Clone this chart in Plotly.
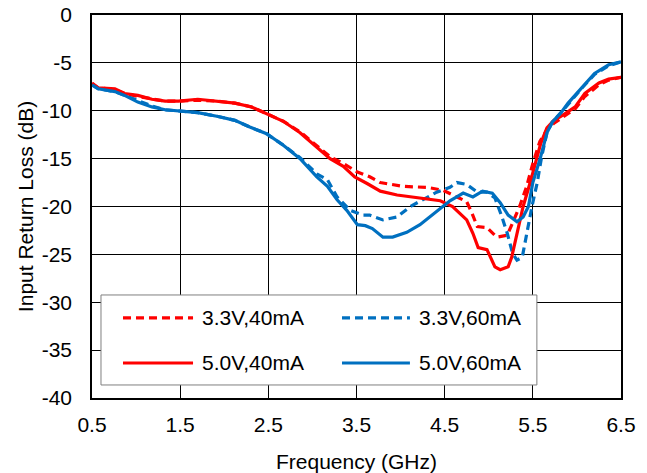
import plotly.graph_objects as go

# 3.3V,40mA (dashed red)
f_r33 = [0.5,0.57,0.76,0.87,1.02,1.18,1.33,1.48,1.70,1.93,2.12,2.31,2.48,2.67,2.86,3.05,3.20,3.35,3.43,3.51,3.65,3.77,4.03,4.30,4.48,4.67,4.75,4.81,4.87,4.98,5.09,5.21,5.27,5.35,5.43,5.50,5.58,5.66,5.74,5.85,5.98,6.09,6.25,6.36,6.5]
s_r33 = [-7.2,-7.6,-7.8,-8.2,-8.5,-8.8,-9.0,-9.0,-8.9,-9.0,-9.2,-9.6,-10.3,-11.1,-12.2,-13.6,-14.8,-15.5,-16.0,-16.4,-16.9,-17.5,-17.9,-18.0,-18.3,-19.2,-19.5,-20.7,-22.1,-22.2,-23.2,-23.0,-21.7,-20.0,-17.9,-15.5,-13.2,-12.0,-11.3,-10.6,-9.8,-8.5,-7.3,-6.8,-6.5]

# 3.3V,60mA (dashed blue)
f_b33 = [0.5,0.57,0.76,0.87,1.02,1.18,1.33,1.48,1.70,1.93,2.12,2.29,2.48,2.67,2.86,3.05,3.17,3.28,3.43,3.57,3.65,3.80,3.96,4.11,4.25,4.41,4.56,4.64,4.75,4.87,4.98,5.07,5.15,5.21,5.27,5.32,5.38,5.41,5.45,5.49,5.55,5.60,5.66,5.72,5.82,5.90,6.06,6.20,6.36,6.5]
s_b33 = [-7.3,-7.7,-8.0,-8.4,-9.0,-9.5,-9.9,-10.0,-10.2,-10.6,-11.0,-11.7,-12.4,-13.6,-14.9,-16.6,-17.2,-19.0,-20.4,-20.9,-20.9,-21.4,-21.1,-20.0,-19.3,-18.5,-18.0,-17.5,-17.7,-18.5,-18.5,-19.1,-21.1,-22.8,-24.9,-25.6,-25.3,-23.8,-21.7,-20.0,-17.5,-14.8,-12.3,-11.2,-10.2,-9.3,-7.6,-6.2,-5.3,-4.9]

# 5.0V,40mA (solid red)
f_r50 = [0.5,0.57,0.76,0.87,1.02,1.18,1.33,1.48,1.70,1.93,2.12,2.31,2.48,2.67,2.86,3.05,3.20,3.35,3.48,3.62,3.77,3.96,4.22,4.45,4.59,4.75,4.82,4.88,4.98,5.07,5.13,5.22,5.26,5.32,5.39,5.47,5.54,5.59,5.66,5.74,5.85,5.98,6.09,6.25,6.36,6.5]
s_r50 = [-7.1,-7.6,-7.7,-8.2,-8.4,-8.8,-9.0,-9.0,-8.8,-9.0,-9.2,-9.6,-10.3,-11.1,-12.3,-13.8,-15.0,-15.8,-16.9,-17.6,-18.4,-18.8,-19.1,-19.4,-20.0,-21.4,-22.8,-24.3,-24.5,-26.3,-26.6,-26.3,-25.3,-22.8,-20.0,-17.5,-15.0,-13.4,-11.8,-11.0,-10.4,-9.6,-8.2,-7.1,-6.7,-6.5]

# 5.0V,60mA (solid blue)
f_b50 = [0.5,0.57,0.76,0.87,1.02,1.18,1.33,1.48,1.70,1.93,2.12,2.29,2.48,2.67,2.86,3.05,3.17,3.28,3.39,3.51,3.60,3.68,3.80,3.91,4.07,4.22,4.41,4.56,4.71,4.82,4.93,5.04,5.13,5.22,5.32,5.39,5.45,5.50,5.58,5.66,5.72,5.82,5.90,6.06,6.20,6.36,6.5]
s_b50 = [-7.3,-7.7,-8.0,-8.4,-9.1,-9.6,-9.9,-10.0,-10.2,-10.6,-11.0,-11.7,-12.4,-13.6,-15.0,-16.9,-17.9,-19.3,-20.4,-21.9,-22.0,-22.3,-23.2,-23.2,-22.7,-21.9,-20.5,-19.4,-18.6,-19.0,-18.4,-18.6,-19.6,-20.9,-21.6,-21.1,-20.0,-17.5,-15.1,-12.3,-11.2,-10.2,-9.2,-7.5,-6.1,-5.2,-4.9]

series_names = ["3.3V,40mA", "3.3V,60mA", "5.0V,40mA", "5.0V,60mA"]
x_ticks = [0.5, 1.5, 2.5, 3.5, 4.5, 5.5, 6.5]
y_ticks = [0, -5, -10, -15, -20, -25, -30, -35, -40]

RED = "#FF0000"
BLUE = "#0070C0"
DASH = "8px,5px"
styles = [(RED, DASH), (BLUE, DASH), (RED, "solid"), (BLUE, "solid")]
data = [(f_r33, s_r33), (f_b33, s_b33), (f_r50, s_r50), (f_b50, s_b50)]

fig = go.Figure()
for name, (fx, sy), (col, dash) in zip(series_names, data, styles):
    fig.add_trace(go.Scatter(x=fx, y=sy, mode="lines", name=name, showlegend=False,
                             line=dict(color=col, width=3.2, dash=dash)))

FS = 21
font_family = "Liberation Sans, Arial, sans-serif"

# Manual legend (Excel-style, long line samples) in paper coordinates
shapes = [dict(type="rect", xref="paper", yref="paper", x0=0.017, x1=0.841, y0=0.034, y1=0.269,
               line=dict(color="#7f7f7f", width=1), fillcolor="white", layer="above")]
annotations = []
leg_pos = [(0.0586, 0.191, 0.204, 0.209), (0.4726, 0.601, 0.614, 0.209),
           (0.0586, 0.191, 0.204, 0.0914), (0.4726, 0.601, 0.614, 0.0914)]
for name, (col, dash), (lx0, lx1, tx, ly) in zip(series_names, styles, leg_pos):
    shapes.append(dict(type="line", xref="paper", yref="paper", x0=lx0, x1=lx1, y0=ly, y1=ly,
                       line=dict(color=col, width=3.2, dash=dash), layer="above"))
    annotations.append(dict(xref="paper", yref="paper", x=tx, y=ly, text=name, showarrow=False,
                            xanchor="left", yanchor="middle", font=dict(size=FS, color="black")))

fig.update_layout(
    width=647, height=473,
    margin=dict(l=92, r=26, t=15, b=75),
    paper_bgcolor="white", plot_bgcolor="white",
    font=dict(family=font_family, size=FS, color="black"),
    showlegend=False,
    xaxis=dict(range=[0.5, 6.5], tickvals=x_ticks, ticktext=[f"{v:.1f}" for v in x_ticks],
               showgrid=True, gridcolor="black", gridwidth=1,
               showline=True, linecolor="black", linewidth=1.5, mirror=True,
               ticks="", zeroline=False, ticklabelstandoff=7, automargin=False,
               title=dict(text="Frequency (GHz)", font=dict(size=FS), standoff=19)),
    yaxis=dict(range=[-40, 0], tickvals=y_ticks, ticktext=[str(v) for v in y_ticks],
               showgrid=True, gridcolor="black", gridwidth=1,
               showline=True, linecolor="black", linewidth=1.5, mirror=True,
               ticks="", zeroline=False, ticklabelstandoff=14, automargin=False,
               title=dict(text="Input Return Loss (dB)", font=dict(size=FS), standoff=2)),
    shapes=shapes, annotations=annotations,
)

fig.write_html("out.html")
